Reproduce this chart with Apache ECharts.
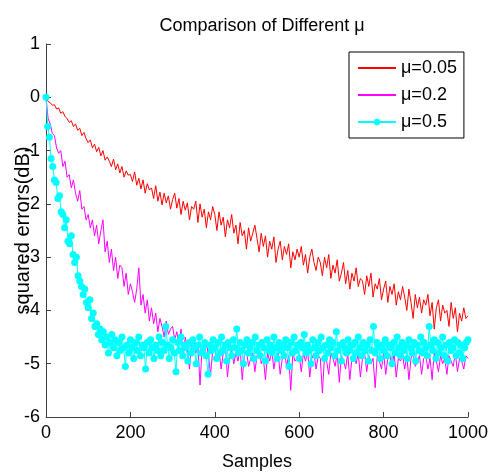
<!DOCTYPE html>
<html>
<head>
<meta charset="utf-8">
<script src="https://cdn.jsdelivr.net/npm/echarts@6/dist/echarts.min.js"></script>
<style>html,body{margin:0;padding:0;background:#fff}#c{width:491px;height:473px}</style>
</head>
<body>
<div id="c"></div>
<script>
// sample step between stored points
const STEP_RED = 5;
const STEP_MAG = 5;
const STEP_CYAN = 4;
const seriesNames = ['\u03bc=0.05', '\u03bc=0.2', '\u03bc=0.5'];
const xTicks = [0, 200, 400, 600, 800, 1000];
const yTicks = [-6, -5, -4, -3, -2, -1, 0, 1];

const mu005 = [
 0, -0.08, -0.1, -0.15, -0.14, -0.22, -0.2, -0.3, -0.27, -0.36,
 -0.4, -0.47, -0.44, -0.55, -0.5, -0.62, -0.58, -0.72, -0.66, -0.78,
 -0.85, -0.8, -0.95, -0.88, -1.02, -0.94, -1.1, -1.0, -1.18, -1.12,
 -1.2, -1.3, -1.16, -1.36, -1.25, -1.42, -1.3, -1.5, -1.38, -1.46,
 -1.45, -1.58, -1.4, -1.65, -1.52, -1.72, -1.55, -1.8, -1.62, -1.74,
 -1.7, -1.9, -1.66, -1.95, -1.78, -2.02, -1.8, -1.98, -1.85, -2.1,
 -1.92, -1.8, -2.08, -1.9, -2.2, -1.95, -2.12, -1.98, -2.3, -2.05,
 -2.1, -1.95, -2.35, -2.0, -2.25, -2.1, -2.45, -2.15, -2.3, -2.05,
 -2.2, -2.5, -2.15, -2.4, -2.25, -2.62, -2.3, -2.45, -2.2, -2.55,
 -2.4, -2.75, -2.35, -2.6, -2.5, -2.85, -2.45, -2.7, -2.55, -2.4,
 -2.65, -2.9, -2.55, -2.8, -2.6, -3.0, -2.7, -2.85, -2.62, -3.1,
 -2.85, -2.7, -3.05, -2.8, -2.95, -2.75, -3.2, -2.9, -3.05, -2.85,
 -3.0, -2.8, -3.15, -2.95, -3.3, -3.0, -2.85, -3.1, -3.25, -3.0,
 -3.1, -3.35, -3.0, -3.2, -2.95, -3.4, -3.15, -3.3, -3.05, -3.45,
 -3.3, -3.1, -3.5, -3.25, -3.6, -3.3, -3.45, -3.2, -3.55, -3.4,
 -3.45, -3.7, -3.35, -3.55, -3.3, -3.75, -3.5, -3.6, -3.4, -3.8,
 -3.6, -3.45, -3.85, -3.55, -3.7, -3.5, -3.9, -3.65, -3.8, -3.55,
 -3.75, -4.0, -3.6, -3.85, -4.15, -3.7, -3.95, -3.75, -4.05, -3.8,
 -3.9, -3.7, -4.1, -3.85, -4.35, -3.95, -3.8, -4.2, -3.9, -4.05,
 -4.0, -4.3, -3.85, -4.15, -3.95, -4.4, -4.05, -4.2, -3.95, -4.15,
 -4.1
];

const mu02 = [
 0, -0.4, -0.5, -0.68, -0.72, -0.95, -1.05, -1.0, -1.3, -1.2,
 -1.5, -1.45, -1.7, -1.55, -1.8, -1.95, -1.75, -2.1, -2.05, -2.3,
 -2.2, -2.45, -2.3, -2.6, -2.4, -2.75, -2.5, -2.3, -2.9, -2.7,
 -3.1, -2.85, -3.25, -3.0, -3.4, -3.15, -3.2, -3.55, -3.3, -3.7,
 -3.5, -3.65, -3.85, -3.6, -3.2, -3.9, -3.7, -4.05, -3.8, -4.2,
 -3.95, -4.25, -4.05, -4.4, -4.15, -4.3, -4.5, -4.2, -4.45, -4.35,
 -4.3, -4.55, -4.4, -4.65, -4.35, -4.9, -4.5, -4.7, -5.1, -4.6,
 -4.55, -4.8, -4.65, -5.4, -4.7, -4.9, -4.6, -4.85, -5.2, -4.75,
 -4.7, -4.95, -4.75, -5.1, -4.8, -4.65, -5.25, -4.85, -4.75, -5.0,
 -4.8, -4.95, -4.7, -5.3, -4.85, -4.75, -5.05, -4.9, -4.8, -5.15,
 -4.85, -4.7, -5.0, -4.9, -5.3, -4.8, -4.95, -4.75, -5.1, -4.85,
 -4.8, -5.2, -4.9, -4.75, -5.05, -4.85, -5.5, -4.8, -4.95, -4.9,
 -4.85, -5.15, -4.8, -4.95, -4.75, -5.25, -4.9, -4.8, -5.1, -4.85,
 -4.9, -5.55, -4.85, -4.95, -5.2, -4.8, -4.9, -5.05, -4.8, -5.35,
 -4.85, -4.95, -5.1, -4.8, -5.3, -4.9, -4.85, -5.0, -4.8, -5.25,
 -4.9, -4.8, -5.15, -4.85, -5.0, -4.9, -5.45, -4.85, -4.95, -5.1,
 -4.8, -5.2, -4.9, -4.85, -5.05, -4.8, -5.25, -4.9, -4.95, -4.85,
 -5.1, -4.85, -5.3, -4.9, -4.8, -5.05, -4.95, -4.85, -5.2, -4.9,
 -4.85, -5.1, -4.9, -5.3, -4.8, -4.95, -5.15, -4.85, -5.0, -4.9,
 -5.2, -4.85, -4.95, -5.05, -4.8, -5.15, -4.9, -4.95, -5.1, -4.85,
 -4.9
];

const mu05 = [
 0, -0.55, -0.75, -1.15, -1.3, -1.55, -1.6, -1.9, -1.85, -2.15,
 -2.2, -2.45, -2.3, -2.7, -2.75, -2.6, -2.95, -3.1, -3.0, -3.35,
 -3.45, -3.55, -3.7, -3.6, -3.85, -3.95, -3.8, -4.15, -4.05, -4.3,
 -4.25, -4.45, -4.35, -4.55, -4.4, -4.65, -4.5, -4.8, -4.6, -4.45,
 -4.7, -4.55, -4.85, -4.6, -4.75, -4.5, -4.7, -5.05, -4.65, -4.8,
 -4.55, -4.7, -4.9, -4.6, -4.75, -4.5, -4.85, -4.65, -4.7, -5.1,
 -4.6, -4.8, -4.55, -4.7, -4.9, -4.65, -4.75, -4.5, -4.85, -4.6,
 -4.75, -4.3, -4.65, -4.9, -4.7, -4.55, -4.8, -5.15, -4.6, -4.75,
 -4.5, -4.85, -4.65, -4.7, -4.95, -4.6, -4.8, -4.55, -4.7, -5.0,
 -4.65, -4.5, -4.8, -4.7, -4.6, -4.85, -5.2, -4.65, -4.75, -4.55,
 -4.7, -4.9, -4.6, -4.8, -4.5, -4.75, -4.65, -4.95, -4.6, -4.7,
 -4.85, -4.55, -4.7, -4.35, -4.8, -4.6, -4.75, -5.0, -4.65, -4.55,
 -4.8, -4.7, -4.6, -4.9, -4.5, -4.75, -4.65, -4.85, -4.6, -4.7,
 -4.95, -4.55, -4.75, -4.65, -4.8, -4.5, -4.7, -4.9, -4.6, -4.75,
 -4.65, -4.85, -4.55, -4.7, -5.05, -4.6, -4.8, -4.5, -4.75, -4.65,
 -4.9, -4.6, -4.7, -4.45, -4.8, -4.65, -4.75, -5.0, -4.55, -4.7,
 -4.85, -4.6, -4.75, -4.5, -4.7, -4.9, -4.65, -4.8, -4.55, -4.7,
 -4.6, -4.85, -4.4, -4.75, -4.65, -4.95, -4.6, -4.7, -4.8, -4.55,
 -4.75, -4.65, -4.9, -4.6, -4.8, -4.5, -4.7, -4.85, -4.6, -4.75,
 -4.65, -4.95, -4.55, -4.75, -4.3, -4.8, -4.6, -4.7, -4.9, -4.65,
 -4.75, -4.55, -4.85, -4.65, -4.7, -5.0, -4.6, -4.8, -4.5, -4.7,
 -4.85, -4.6, -4.75, -4.65, -4.9, -4.55, -4.7, -4.8, -4.6, -4.95,
 -4.65, -4.75, -4.5, -4.8, -4.6, -4.7, -4.85, -4.3, -4.65, -4.75,
 -4.55, -4.9, -4.6, -4.8, -4.7, -4.5, -4.85, -4.65, -4.95, -4.6,
 -4.75, -4.7, -4.55, -4.85, -4.6, -4.8, -4.65, -4.9, -4.7, -4.6,
 -4.55
];

function pairs(arr, step) { return arr.map((v, i) => [i * step, v]); }

const FONT = "'Liberation Sans', Arial, sans-serif";
const chart = echarts.init(document.getElementById('c'), null, { renderer: 'canvas' });
chart.setOption({
  animation: false,
  backgroundColor: '#ffffff',
  title: {
    text: 'Comparison of Different \u03bc',
    left: 257, top: 12, textAlign: 'center',
    textStyle: { fontFamily: FONT, fontSize: 18, fontWeight: 'normal', color: '#000' }
  },
  legend: {
    orient: 'vertical',
    left: 349, top: 52,
    padding: [6, 7, 6, 8],
    itemWidth: 38, itemHeight: 8, itemGap: 7,
    backgroundColor: '#fff',
    borderColor: '#000', borderWidth: 1, borderRadius: 0,
    textStyle: { fontFamily: FONT, fontSize: 18, color: '#000', lineHeight: 20 },
    data: [
      { name: seriesNames[0], itemStyle: { color: 'rgba(0,0,0,0)', borderWidth: 0 } },
      { name: seriesNames[1], itemStyle: { color: 'rgba(0,0,0,0)', borderWidth: 0 } },
      { name: seriesNames[2] }
    ]
  },
  grid: { left: 46, right: 23, top: 44, bottom: 56, containLabel: false, outerBoundsMode: 'none' },
  xAxis: {
    type: 'value', min: xTicks[0], max: xTicks[xTicks.length - 1], interval: 200,
    name: 'Samples', nameLocation: 'middle', nameGap: 36, nameMoveOverlap: false,
    nameTextStyle: { fontFamily: FONT, fontSize: 18, color: '#000' },
    axisLine: { show: true, onZero: false, lineStyle: { color: '#404040', width: 1 } },
    axisTick: { show: true, inside: true, length: 5, lineStyle: { color: '#404040' } },
    axisLabel: { fontFamily: FONT, fontSize: 18, color: '#000', margin: 7, formatter: v => String(v) },
    splitLine: { show: false }
  },
  yAxis: {
    type: 'value', min: yTicks[0], max: yTicks[yTicks.length - 1], interval: 1,
    name: 'squared errors(dB)', nameLocation: 'middle', nameGap: 13, nameMoveOverlap: false,
    nameTextStyle: { fontFamily: FONT, fontSize: 20, color: '#000' },
    axisLine: { show: true, onZero: false, lineStyle: { color: '#404040', width: 1 } },
    axisTick: { show: true, inside: true, length: 5, lineStyle: { color: '#404040' } },
    axisLabel: { fontFamily: FONT, fontSize: 18, color: '#000', margin: 6, formatter: v => String(v) },
    splitLine: { show: false }
  },
  series: [
    {
      name: seriesNames[0], type: 'line', data: pairs(mu005, STEP_RED),
      symbol: 'none', lineStyle: { color: '#ff0000', width: 1 }, itemStyle: { color: '#ff0000' }
    },
    {
      name: seriesNames[1], type: 'line', data: pairs(mu02, STEP_MAG),
      symbol: 'none', lineStyle: { color: '#ff00ff', width: 1 }, itemStyle: { color: '#ff00ff' }
    },
    {
      name: seriesNames[2], type: 'line', data: pairs(mu05, STEP_CYAN),
      symbol: 'circle', symbolSize: 7, showAllSymbol: true,
      lineStyle: { color: '#00ffff', width: 1 }, itemStyle: { color: '#00ffff' }
    }
  ]
});
</script>
</body>
</html>
